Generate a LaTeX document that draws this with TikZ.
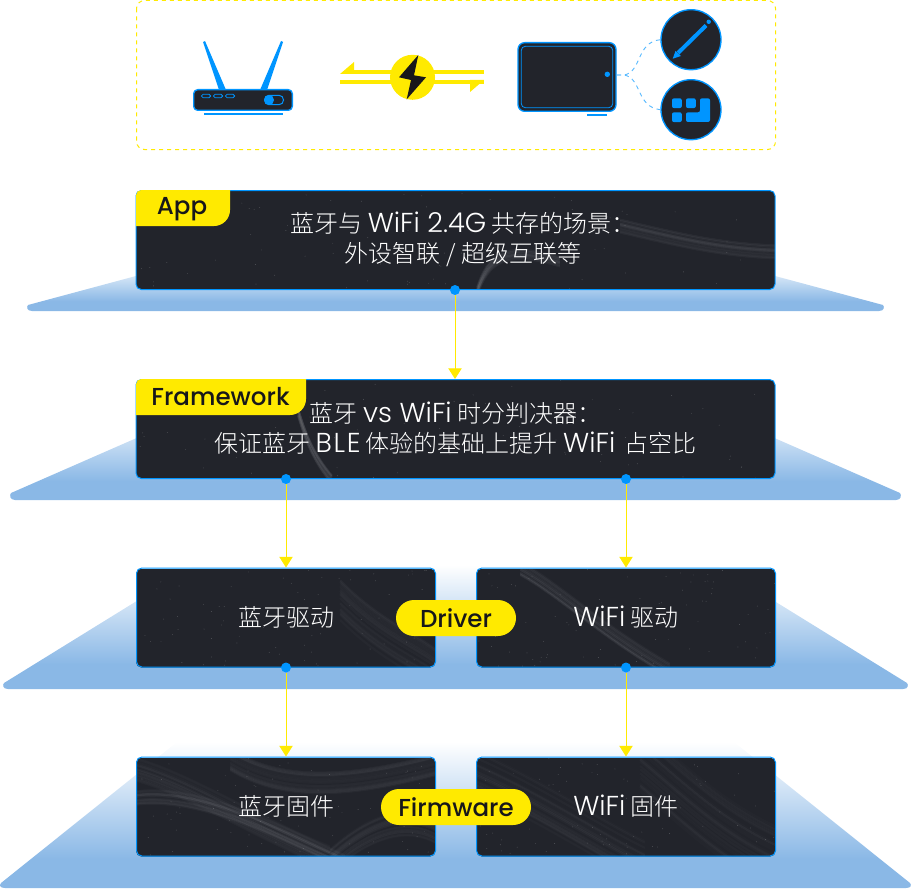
\documentclass[tikz,border=0pt]{standalone}
\usepackage{fontspec}
\usepackage{xcolor}
\usetikzlibrary{arrows.meta}
\setmainfont{Poppins}
\newfontfamily\cjk{Noto Sans CJK SC Light}
\newfontfamily\latlight[Scale=1.14]{Poppins Light}
\newfontfamily\latwide[Scale=1.14,LetterSpace=6]{Poppins Light}
\newfontfamily\latmedium{Poppins Medium}
\definecolor{tagyellow}{HTML}{FFEA00}
\definecolor{linkblue}{HTML}{0095FF}
\definecolor{boxdark}{HTML}{22242B}
\definecolor{layerblue}{HTML}{8AB8E6}
\definecolor{boltdark}{HTML}{17171A}
\pgfdeclareverticalshading{layerfade}{100bp}{color(0bp)=(layerblue); color(35bp)=(layerblue); color(75bp)=(white); color(100bp)=(white)}
\pgfmathsetseed{41}
\newcommand{\layerband}[5]{%
  \shade[shading=layerfade] (#1,#2) -- (#3,#4) .. controls (#3-1.5,#4+2) and (#3-1.5,#5) .. (#3+4,#5) -- (907-#3,#5) .. controls (912.5-#3,#5) and (912.5-#3,#4+2) .. (911-#3,#4) -- (911-#1,#2) -- cycle;}
\newcommand{\streak}[9]{\foreach \n in {1,...,40} {\pgfmathsetmacro\dy{(rnd-0.5)*#9}
  \draw[white,opacity=0.012,line width=1.8pt] (#1,#2+\dy) .. controls (#3,#4+\dy) and (#5,#6+\dy) .. (#7,#8+\dy);}}
\newcommand{\boxground}[5]{\begin{scope}
  \clip[rounded corners=4pt] (#1,#2) rectangle (#3,#4);
  \fill[boxdark] (#1,#2) rectangle (#3,#4);
  #5
  \foreach \n in {1,...,80} {\pgfmathsetmacro\sx{#1+rnd*(#3-#1)}\pgfmathsetmacro\sy{#2+rnd*(#4-#2)}
    \fill[white,opacity=0.22] (\sx,\sy) circle (0.45);}
  \end{scope}}
\tikzset{
  layerbox/.style={draw=linkblue,line width=0.75pt,rounded corners=4pt,minimum height=74.25pt,inner sep=0pt,text=white,font=\fontsize{18}{22}\selectfont\cjk},
  widebox/.style={layerbox,minimum width=479.25pt},
  halfbox/.style={layerbox,minimum width=224.25pt},
  pill/.style={fill=tagyellow,rounded corners=13.5pt,minimum height=27pt,inner sep=0pt,text=boltdark,font=\fontsize{18.4}{20}\selectfont\latmedium},
  tagtext/.style={inner sep=0pt,text=boltdark,font=\fontsize{18.4}{20}\selectfont\latmedium},
  bodytext/.style={inner sep=0pt,text=white,align=center,font=\fontsize{18}{22.5}\selectfont\cjk},
  portdot/.style={circle,fill=linkblue,minimum size=7.5pt,inner sep=0pt},
  flow/.style={draw=tagyellow,line width=0.75pt,-{Triangle[length=8pt,width=10pt,fill=tagyellow]}},
  icon/.style={fill=boxdark,draw=linkblue,line width=1pt},
  dashlink/.style={draw=linkblue!65,line width=0.7pt,dash pattern=on 3pt off 3pt},
}
\begin{document}
\begin{tikzpicture}[x=0.75pt,y=0.75pt,yscale=-1,xscale=1]
\useasboundingbox (0,0) rectangle (912,888);

% layers behind the boxes
\layerband{188}{262}{28}{305}{311}
\layerband{212}{405}{11}{493}{500}
\layerband{195}{565}{4}{683}{689}
\layerband{177}{742}{1}{883}{888}

% top frame
\draw[tagyellow,line width=0.75pt,dashed,rounded corners=6pt] (136.5,0.5) rectangle (775.5,149.5);

% router
\fill[linkblue] (203,42) -- (205,41) -- (226,90) -- (219,90) -- cycle;
\fill[linkblue] (281,41) -- (283,42) -- (267,90) -- (260,90) -- cycle;
\node[icon,rounded corners=3pt,minimum width=74pt,minimum height=15.5pt,inner sep=0pt] (routerbody) at (243,100) {};
\foreach \x in {201.5,213.5,225.5} {\draw[linkblue,line width=0.6pt,rounded corners=1.2pt] (\x,94.3) rectangle +(9.2,3.4);}
\draw[linkblue,line width=0.75pt,rounded corners=3.4pt] (264.5,95.3) rectangle (283.5,104.7);
\fill[linkblue] (269,100) circle (5);
\fill[linkblue] (203.5,113) rectangle (282.5,115);

% bolt and arrows
\fill[tagyellow] (354,70) rectangle (484,74);
\fill[tagyellow] (340,80) rectangle (484,84);
\fill[tagyellow] (340,74) -- (354,62) -- (354,74) -- cycle;
\fill[tagyellow] (484,80) -- (470,80) -- (470,92) -- cycle;
\node[circle,fill=tagyellow,minimum size=33.75pt,inner sep=0pt] (boltdisc) at (412.5,77.3) {};
\fill[boltdark] (418.3,55) -- (399,77.3) -- (411,80) -- (406.7,99.3) -- (426,77.3) -- (414,75.3) -- cycle;

% tablet
\node[icon,rounded corners=5pt,minimum width=73.5pt,minimum height=51.5pt,inner sep=0pt] (tablet) at (567,77) {};
\draw[linkblue,line width=0.6pt,rounded corners=3pt] (521.3,46.3) rectangle (612.7,107.7);
\fill[linkblue] (607.3,74.3) circle (2.7);
\fill[linkblue] (587.3,114) rectangle (606.7,115.8);
\node[circle,icon,minimum size=45pt,inner sep=0pt] (penicon) at (691,39.7) {};
\node[circle,icon,minimum size=45pt,inner sep=0pt] (padicon) at (691,109.7) {};
\coordinate (tabletport) at (617,75);
\draw[dashlink] (tabletport) -- (624,75) .. controls (642,72) and (636,42) .. (penicon.west);
\draw[dashlink] (tabletport) -- (624,75) .. controls (642,78) and (636,107) .. (padicon.west);
\draw[linkblue,line width=3pt] (678,53) -- (706,25.5);
\fill[linkblue] (672.7,58.7) -- (675.5,51) -- (681,56) -- cycle;
\fill[linkblue] (708.7,21.8) circle (2.2);
\foreach \x/\y in {672/98.3,686/98.3,672/112.3} {\fill[linkblue,rounded corners=1.5pt] (\x,\y) rectangle +(9.8,9.8);}
\fill[linkblue,rounded corners=1.5pt] (700,98.3) -- (710,98.3) -- (710,122) -- (686,122) -- (686,112.3) -- (700,112.3) -- cycle;

% box surfaces
\boxground{136}{190.5}{775}{289.5}{\streak{477}{292}{488}{258}{505}{245}{560}{262}{10}
  \streak{620}{226}{680}{240}{720}{250}{780}{252}{14}}
\boxground{136}{379.5}{775}{478.5}{\streak{298}{412}{306}{440}{315}{460}{332}{480}{10}}
\boxground{136}{568.5}{435.5}{667.5}{\streak{340}{600}{380}{640}{410}{650}{440}{672}{40}}
\boxground{476.5}{568.5}{775.5}{667.5}{\streak{520}{568}{560}{590}{600}{630}{670}{670}{14}}
\boxground{136}{757.5}{435.5}{856.5}{\streak{136}{770}{190}{785}{260}{830}{330}{858}{24}
  \streak{136}{798}{200}{790}{280}{832}{345}{862}{14}
  \streak{230}{760}{280}{790}{340}{790}{436}{765}{22}
  \streak{330}{862}{360}{835}{400}{812}{436}{832}{26}}
\boxground{476.5}{757.5}{775.5}{856.5}{\streak{476}{772}{540}{800}{600}{840}{645}{862}{44}
  \streak{640}{757}{680}{790}{720}{830}{776}{856}{70}}

% boxes
\node[widebox] (appbox) at (455.5,240) {};
\node[widebox] (frameworkbox) at (455.5,429) {};
\node[halfbox] (btdriver) at (286,617.5) {蓝牙驱动};
\node[halfbox] (wifidriver) at (626,617.5) {{\latlight WiFi} 驱动};
\node[halfbox] (btfirmware) at (286,806.5) {蓝牙固件};
\node[halfbox] (wififirmware) at (626,806.5) {{\latlight WiFi} 固件};

% tags
\fill[tagyellow,rounded corners=4pt] (136,226) -- (136,190) -- (160,190) [sharp corners] -- (230,190) [rounded corners=12pt] -- (230,226) [sharp corners] -- cycle;
\fill[tagyellow,rounded corners=4pt] (136,415) -- (136,379) -- (160,379) [sharp corners] -- (306,379) [rounded corners=12pt] -- (306,415) [sharp corners] -- cycle;
\node[tagtext] (apptag) at (182,209) {App};
\node[tagtext] (frameworktag) at (220.5,397) {Framework};
\node[pill,minimum width=90pt] (drivertag) at (456,618) {Driver};
\node[pill,minimum width=112.5pt] (firmwaretag) at (456,807) {Firmware};

% texts
\node[bodytext] (apptext) at (463,239) {蓝牙与 {\latlight WiFi 2.4G} 共存的场景：\\外设智联 / 超级互联等};
\node[bodytext] (frameworktext) at (455.5,428.5) {蓝牙 {\latlight vs WiFi} 时分判决器：\\保证蓝牙 {\latwide BLE} 体验的基础上提升 {\latlight WiFi}\hspace{3pt} 占空比};

% connectors
\node[portdot] (appport) at ([xshift=-0.375pt]appbox.south) {};
\node[portdot] (fwbtport) at (btdriver.north |- frameworkbox.south) {};
\node[portdot] (fwwifiport) at (wifidriver.north |- frameworkbox.south) {};
\node[portdot] (btport) at (btdriver.south) {};
\node[portdot] (wifiport) at (wifidriver.south) {};
\draw[flow] (appport) -- (appport |- frameworkbox.north);
\draw[flow] (fwbtport) -- (btdriver.north);
\draw[flow] (fwwifiport) -- (wifidriver.north);
\draw[flow] (btport) -- (btfirmware.north);
\draw[flow] (wifiport) -- (wififirmware.north);
\end{tikzpicture}
\end{document}
